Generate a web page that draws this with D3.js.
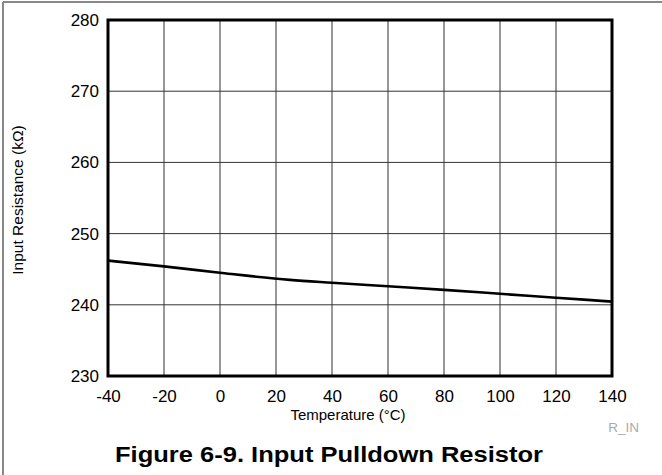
<!DOCTYPE html>
<html>
<head>
<meta charset="utf-8">
<script src="https://cdn.jsdelivr.net/npm/d3@7"></script>
<style>
  body { margin: 0; background: #fff; }
  svg { display: block; font-family: "Liberation Sans", Arial, sans-serif; }
</style>
</head>
<body>
<svg id="chart" width="662" height="475"></svg>
<script>
// data
const temps = [-40, -20, 0, 25, 40, 60, 80, 100, 120, 140];
const resistance = [246.2, 245.4, 244.5, 243.5, 243.1, 242.6, 242.1, 241.55, 241.0, 240.45];
const xTicks = [-40, -20, 0, 20, 40, 60, 80, 100, 120, 140];
const yTicks = [230, 240, 250, 260, 270, 280];

const svg = d3.select('#chart');
const margin = { left: 108, right: 50, top: 20, bottom: 99 };
const width = 662 - margin.left - margin.right;
const height = 475 - margin.top - margin.bottom;
const font = '"Liberation Sans", Arial, sans-serif';

// outer frame (top and left only)
svg.append('line').attr('x1', 3).attr('x2', 662).attr('y1', 2).attr('y2', 2)
    .attr('stroke', '#888').attr('stroke-width', 2);
svg.append('line').attr('x1', 3).attr('x2', 3).attr('y1', 2).attr('y2', 475)
    .attr('stroke', '#888').attr('stroke-width', 2);

const x = d3.scaleLinear().domain([-40, 140]).range([0, width]);
const y = d3.scaleLinear().domain([230, 280]).range([height, 0]);

const g = svg.append('g').attr('transform', `translate(${margin.left},${margin.top})`);

// grid
g.append('g').selectAll('line').data(xTicks).enter().append('line')
    .attr('x1', d => x(d)).attr('x2', d => x(d))
    .attr('y1', 0).attr('y2', height)
    .attr('stroke', '#333').attr('stroke-width', 1);
g.append('g').selectAll('line').data(yTicks).enter().append('line')
    .attr('x1', 0).attr('x2', width)
    .attr('y1', d => y(d)).attr('y2', d => y(d))
    .attr('stroke', '#333').attr('stroke-width', 1);

// curve
const line = d3.line().x((d, i) => x(temps[i])).y(d => y(d)).curve(d3.curveMonotoneX);
g.append('path').datum(resistance)
    .attr('d', line)
    .attr('fill', 'none').attr('stroke', '#000').attr('stroke-width', 2.6);

// frame
g.append('rect').attr('x', 0).attr('y', 0).attr('width', width).attr('height', height)
    .attr('fill', 'none').attr('stroke', '#000').attr('stroke-width', 3);

// axes (labels only), plain hyphen for negatives
const xAxis = d3.axisBottom(x).tickValues(xTicks).tickSize(0).tickPadding(14)
    .tickFormat(d => String(d));
g.append('g').attr('transform', `translate(0,${height})`).call(xAxis)
    .attr('font-size', 17).attr('font-family', font)
    .call(a => a.select('.domain').remove())
    .selectAll('text').attr('fill', '#000');

const yAxis = d3.axisLeft(y).tickValues(yTicks).tickSize(0).tickPadding(9)
    .tickFormat(d => String(d));
g.append('g').call(yAxis)
    .attr('font-size', 17).attr('font-family', font)
    .call(a => a.select('.domain').remove())
    .selectAll('text').attr('fill', '#000');

// axis titles
svg.append('text')
    .attr('x', 348).attr('y', 420)
    .attr('text-anchor', 'middle').attr('font-size', 15)
    .text('Temperature (°C)');

svg.append('text')
    .attr('transform', 'translate(23,200) rotate(-90)')
    .attr('text-anchor', 'middle').attr('font-size', 15.5)
    .text('Input Resistance (kΩ)');

svg.append('text')
    .attr('x', 639).attr('y', 432)
    .attr('text-anchor', 'end').attr('font-size', 13.5).attr('fill', '#aaa')
    .text('R_IN');

svg.append('text')
    .attr('x', 115).attr('y', 462)
    .attr('font-size', 22).attr('font-weight', 'bold')
    .attr('textLength', 428).attr('lengthAdjust', 'spacingAndGlyphs')
    .text('Figure 6-9. Input Pulldown Resistor');
</script>
</body>
</html>
